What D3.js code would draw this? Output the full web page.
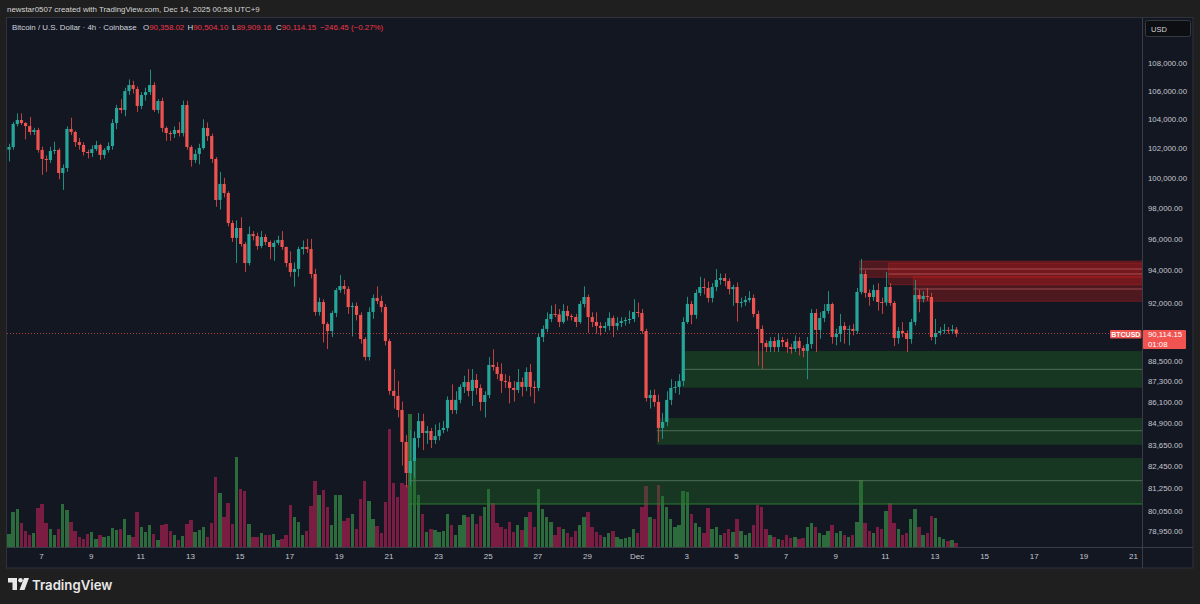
<!DOCTYPE html>
<html>
<head>
<meta charset="utf-8">
<script src="https://cdn.jsdelivr.net/npm/d3@7"></script>
<style>
  html, body { margin: 0; padding: 0; background: #1f1f1f; }
  svg { display: block; font-family: "Liberation Sans", Arial, sans-serif; }
</style>
</head>
<body>
<div id="chart"></div>
<script>
// 4h candles, chart time UTC+9, first bar Nov 5 17:00
const firstBar = Date.UTC(2025, 10, 5, 17);
const barHours = 4;

const opens = [
101900,102080,103660,103940,103730,103520,103110,103250,101880,101270,
101200,101810,101880,100320,100660,103320,103110,102420,102220,101740,
101670,101940,102220,101540,101880,102150,103730,104780,104640,105970,
106400,106120,104920,105690,105900,106400,104640,105270,103390,103040,
102970,103250,103040,104990,102080,101200,101610,102010,103390,102830,
101270,98530,99590,98990,97020,96060,96700,95670,94460,96310,
96180,95540,96120,95800,95480,95740,95930,95480,94460,93900,
94090,95350,95480,95350,93770,91420,92030,90690,90260,91360,
92770,93020,92840,91720,91790,91240,89780,88710,91420,92280,
92090,91720,89660,86720,86430,85620,83810,82090,82750,84030,
84990,84310,84430,83920,84140,84480,84600,86200,85620,86200,
86950,87240,86720,87360,86890,86080,86480,88240,88120,87710,
87300,87240,86890,86770,87240,86950,87820,86950,86890,89900,
90390,90990,91300,91270,90810,91480,91170,91110,90810,91910,
92340,91110,90810,90570,90450,90570,91050,90570,90750,90870,
90930,90990,91420,91360,90260,86310,86480,86080,84600,84940,
86200,86890,86950,87300,90810,91910,91240,92590,92960,92900,
92280,92960,93400,93520,93330,92830,92960,91970,92030,92160,
92280,91300,90390,89540,89300,89660,89300,89720,89600,89300,
89180,89660,89240,89070,89480,91360,90330,91050,91480,91910,
89900,90090,90570,90330,90390,90270,92650,93770,92590,92340,
92770,92030,92000,92960,91970,89840,90270,90140,89780,90810,
92460,92220,92400,92340,89900,90140,90270,90330,90270,90358.02
];

const closes = [
102080,103660,103940,103730,103520,103110,103250,101880,101270,101200,
101810,101880,100320,100660,103320,103110,102420,102220,101740,101670,
101940,102220,101540,101880,102150,103730,104780,104640,105970,106400,
106120,104920,105690,105900,106400,104640,105270,103390,103040,102970,
103250,103040,104990,102080,101200,101610,102010,103390,102830,101270,
98530,99590,98990,97020,96060,96700,95670,94460,96310,96180,
95540,96120,95800,95480,95740,95930,95480,94460,93900,94090,
95350,95480,95350,93770,91420,92030,90690,90260,91360,92770,
93020,92840,91720,91790,91240,89780,88710,91420,92280,92090,
91720,89660,86720,86430,85620,83810,82090,82750,84030,84990,
84310,84430,83920,84140,84480,84600,86200,85620,86200,86950,
87240,86720,87360,86890,86080,86480,88240,88120,87710,87300,
87240,86890,86770,87240,86950,87820,86950,86890,89900,90390,
90990,91300,91270,90810,91480,91170,91110,90810,91910,92340,
91110,90810,90570,90450,90570,91050,90570,90750,90870,90930,
90990,91420,91360,90260,86310,86480,86080,84600,84940,86200,
86890,86950,87300,90810,91910,91240,92590,92960,92900,92280,
92960,93400,93520,93330,92830,92960,91970,92030,92160,92280,
91300,90390,89540,89300,89660,89300,89720,89600,89300,89180,
89660,89240,89070,89480,91360,90330,91050,91480,91910,89900,
90090,90570,90330,90390,90270,92650,93770,92590,92340,92770,
92030,92000,92960,91970,89840,90270,90140,89780,90810,92460,
92220,92400,92340,89900,90140,90270,90330,90270,90360.60,90114.15
];

const highs = [
102300,103800,104400,104400,103800,104150,103400,103400,102100,101500,
102100,102440,102000,100900,103500,104100,103200,102700,102400,101900,
102200,102500,102300,102000,102400,104000,105000,105400,106200,106800,
106700,106300,105900,106200,107500,106600,105400,105500,103500,103200,
103500,103800,105300,105300,102200,101900,102300,103990,103770,103000,
101400,100400,100000,99100,97200,97200,97400,95800,96800,96500,
96400,96500,96300,95900,95900,96200,96500,95500,95200,94500,
95500,95900,96000,96000,94100,92300,92200,90800,91500,92900,
93710,93400,93000,92000,92000,91400,89900,91700,92500,93000,
92420,91900,89800,88000,87300,86100,84200,84500,84400,85450,
85400,84700,84600,84800,84900,85000,86400,87100,86700,87100,
87600,88000,88000,87700,87100,86700,88700,89170,88400,88330,
87700,87600,87300,88000,87500,88100,88300,87300,90100,90600,
91400,91820,91900,91600,91900,91800,91300,91300,92100,93000,
92500,91400,91400,90800,90800,91400,91200,91100,91100,91100,
91500,92200,92000,91600,90400,86770,86800,86500,85460,86700,
87400,87300,87700,91100,92350,92100,92800,93600,93500,93300,
93200,94080,93800,93800,93500,93100,93240,92300,92400,92700,
92500,91500,90600,89700,89900,89900,90100,89900,89800,89500,
90000,89900,89400,89900,91600,91600,91400,91900,92700,92000,
90400,91300,90800,90600,90700,92900,94720,94000,92800,93100,
93200,92300,93900,93200,92100,90500,90800,90300,91000,93400,
92800,92700,92900,92600,91000,90500,90700,90500,90630,90504.10
];

const lows = [
101100,101900,103500,103600,102600,102900,102900,101700,100200,100400,
101000,101600,99900,99190,100400,102900,102100,101900,101500,101300,
101400,101800,101200,101300,101700,101900,103300,104400,104200,105700,
105800,104500,104700,105300,105700,104500,104400,103100,102500,102500,
102700,102800,102800,101900,100750,100990,100900,101900,102490,101000,
98080,97900,98700,96800,95800,94460,95500,93900,94300,95900,
95300,95400,95600,94700,94600,95600,95300,94200,93600,92980,
93600,95000,95100,93500,91200,91200,89580,89180,89900,91100,
92600,92500,91300,89940,90900,89500,88500,88500,91000,91900,
91400,89400,86500,85700,85200,82500,81300,81400,81800,83500,
83360,83700,83470,83700,83900,84300,84400,85400,85400,86000,
86600,86400,85860,86500,85580,85190,86300,87900,87400,86600,
86900,86000,86100,86600,86400,86700,86400,86000,86700,89600,
90200,90800,91100,90500,90700,90900,90900,90500,90700,91700,
90160,90500,90100,90000,90200,90300,89900,90300,90500,90600,
90700,90800,91100,90100,86100,85700,85800,83800,83980,84700,
85900,86600,86500,87000,90700,90670,91000,92400,92500,92000,
92000,92700,93100,93000,92500,91800,90830,91700,91800,92000,
91100,88200,88000,89000,89000,89000,89000,89300,88950,88900,
89000,88800,88700,87400,89200,89000,89800,90800,91300,89500,
89400,89600,89500,89400,90000,90100,92500,92300,91800,92100,
91500,91300,91800,91800,89360,89500,89900,89000,89500,90600,
91400,92000,92100,89700,89470,90000,90100,90100,90100,89909.16
];

const volumes = [
320,840,920,576,384,280,328,944,1040,576,
432,288,432,1040,888,600,392,232,200,312,
360,184,296,240,264,448,408,424,672,280,
240,840,480,360,528,312,168,520,552,392,
288,168,264,552,656,360,408,488,240,584,
1680,1296,720,1056,560,2160,1384,1344,544,240,
240,336,288,288,312,168,192,288,1008,720,
608,288,384,976,1576,1248,1368,960,528,1248,
1248,624,704,784,432,1160,1584,1104,672,504,
344,1080,2832,1528,1200,1528,1500,3190,2064,1240,
784,368,424,400,368,384,784,520,288,528,
768,720,784,544,744,968,1384,1048,568,480,
432,600,360,528,408,720,840,480,1392,912,
720,600,288,480,432,336,240,384,528,720,
840,480,360,288,240,336,384,240,192,216,
240,432,336,960,1464,720,672,1488,1224,960,
672,480,528,1344,1320,792,576,480,336,936,
432,480,288,336,432,360,672,384,288,336,
528,1008,960,432,288,240,192,168,288,216,
240,192,216,480,576,480,336,288,384,528,
336,384,288,240,288,600,1608,576,384,336,
480,432,864,1056,576,432,288,336,672,912,
480,288,336,744,696,240,192,144,168,96
];

// demand zones (green) and supply zones (red): first bar index, top, bottom, mid line
const demandStart = [97, 157, 163];
const demandTop = [82915, 85162, 89064];
const demandBottom = [80404, 83655, 86906];
const demandMid = [81666, 84442, 87981];

const supplyStart = [206, 213, 219];
const supplyTop = [94590, 94463, 93600];
const supplyBottom = [93564, 93101, 92074];
const supplyMid = [94085, 93770, 92835];

const priceTicks = [108000, 106000, 104000, 102000, 100000, 98000, 96000, 94000, 92000,
  88500, 87300, 86100, 84900, 83650, 82450, 81250, 80050, 78950];
const dateTicks = ["2025-11-07","2025-11-09","2025-11-11","2025-11-13","2025-11-15","2025-11-17",
  "2025-11-19","2025-11-21","2025-11-23","2025-11-25","2025-11-27","2025-11-29","2025-12-01",
  "2025-12-03","2025-12-05","2025-12-07","2025-12-09","2025-12-11","2025-12-13","2025-12-15",
  "2025-12-17","2025-12-19","2025-12-21"];
const dateLabels = ["7","9","11","13","15","17","19","21","23","25","27","29","Dec",
  "3","5","7","9","11","13","15","17","19","21"];

function drawChart() {
  const W = 1200, H = 604;
  const plot = { left: 7, right: 1142.5, top: 18, bottom: 547 };

  const svg = d3.select("#chart")
    .append("svg")
    .attr("width", W)
    .attr("height", H)
    .attr("viewBox", `0 0 ${W} ${H}`);

  svg.append("rect").attr("width", W).attr("height", H).attr("fill", "#1f1f1f");

  // chart panel
  svg.append("rect")
    .attr("x", 6.5).attr("y", 17.5)
    .attr("width", 1186.5).attr("height", 550.5)
    .attr("fill", "#131722")
    .attr("stroke", "#2f323c");

  const bars = closes.map((c, i) => ({
    t: new Date(firstBar + i * barHours * 3600e3),
    o: opens[i], h: highs[i], l: lows[i], c: c, v: volumes[i]
  }));

  const parseDay = d3.utcParse("%Y-%m-%d");
  const tickDates = dateTicks.map(parseDay);

  const x = d3.scaleUtc()
    .domain([parseDay("2025-11-07"), parseDay("2025-12-21")])
    .range([41, 1133]);
  const y = d3.scaleLog()
    .domain([78950, 108000])
    .range([531.3, 62.7]);
  const yVol = d3.scaleLinear()
    .domain([0, 2400])
    .range([plot.bottom, plot.bottom - 100]);

  svg.append("clipPath").attr("id", "plotClip")
    .append("rect")
    .attr("x", plot.left).attr("y", plot.top)
    .attr("width", plot.right - plot.left).attr("height", plot.bottom - plot.top);

  const g = svg.append("g").attr("clip-path", "url(#plotClip)");

  // volume
  g.append("g")
    .selectAll("rect")
    .data(bars)
    .join("rect")
    .attr("x", d => x(d.t) - 1.7)
    .attr("width", 3.4)
    .attr("y", d => yVol(d.v))
    .attr("height", d => plot.bottom - yVol(d.v))
    .attr("fill", d => d.c >= d.o ? "#2c6b3b" : "#7b1c42")
    .attr("shape-rendering", "crispEdges");

  // zones
  const demand = demandStart.map((s, i) => ({ s, top: demandTop[i], bottom: demandBottom[i], mid: demandMid[i] }));
  const supply = supplyStart.map((s, i) => ({ s, top: supplyTop[i], bottom: supplyBottom[i], mid: supplyMid[i] }));

  const zoneG = g.append("g");
  zoneG.selectAll(".demand")
    .data(demand)
    .join("rect")
    .attr("class", "demand")
    .attr("x", d => x(bars[d.s].t) - 1.5)
    .attr("width", d => plot.right - x(bars[d.s].t) + 1.5)
    .attr("y", d => y(d.top))
    .attr("height", d => y(d.bottom) - y(d.top))
    .attr("fill", "#1f6b26")
    .attr("fill-opacity", 0.38);
  zoneG.selectAll(".demandMid")
    .data(demand)
    .join("line")
    .attr("class", "demandMid")
    .attr("x1", d => x(bars[d.s].t) - 1.5)
    .attr("x2", plot.right)
    .attr("y1", d => y(d.mid)).attr("y2", d => y(d.mid))
    .attr("stroke", "#5d7a62").attr("stroke-width", 1).attr("stroke-opacity", 0.8);
  // lower edge of the widest zone
  zoneG.append("line")
    .attr("x1", x(bars[demand[0].s].t) - 1.5).attr("x2", plot.right)
    .attr("y1", y(demand[0].bottom)).attr("y2", y(demand[0].bottom))
    .attr("stroke", "#2e7d32").attr("stroke-width", 1);

  zoneG.selectAll(".supply")
    .data(supply)
    .join("rect")
    .attr("class", "supply")
    .attr("x", d => x(bars[d.s].t) - 1.5)
    .attr("width", d => plot.right - x(bars[d.s].t) + 1.5)
    .attr("y", d => y(d.top))
    .attr("height", d => y(d.bottom) - y(d.top))
    .attr("fill", "#b71c1c")
    .attr("fill-opacity", 0.36)
    .attr("stroke", "#c62828").attr("stroke-opacity", 0.35);
  zoneG.selectAll(".supplyMid")
    .data(supply)
    .join("line")
    .attr("class", "supplyMid")
    .attr("x1", d => x(bars[d.s].t) - 1.5)
    .attr("x2", plot.right)
    .attr("y1", d => y(d.mid)).attr("y2", d => y(d.mid))
    .attr("stroke", "#d9787c").attr("stroke-width", 1).attr("stroke-opacity", 0.55);

  // candles
  const candle = g.append("g")
    .selectAll("g")
    .data(bars)
    .join("g");
  candle.append("line")
    .attr("x1", d => Math.round(x(d.t)) + 0.5)
    .attr("x2", d => Math.round(x(d.t)) + 0.5)
    .attr("y1", d => y(d.h))
    .attr("y2", d => y(d.l))
    .attr("stroke", d => d.c >= d.o ? "#1f8f82" : "#c2403f")
    .attr("stroke-width", 1);
  candle.append("rect")
    .attr("x", d => x(d.t) - 1.5)
    .attr("width", 3.2)
    .attr("y", d => y(Math.max(d.o, d.c)))
    .attr("height", d => Math.max(1, Math.abs(y(d.o) - y(d.c))))
    .attr("fill", d => d.c >= d.o ? "#26a69a" : "#ef5350");

  // last price line
  const last = bars[bars.length - 1];
  const prevClose = closes[closes.length - 2];
  svg.append("line")
    .attr("x1", plot.left).attr("x2", 1110)
    .attr("y1", y(last.c)).attr("y2", y(last.c))
    .attr("stroke", "#ef5350").attr("stroke-opacity", 0.75)
    .attr("stroke-dasharray", "1,2");

  // axes separators
  svg.append("line")
    .attr("x1", 1142.5).attr("x2", 1142.5).attr("y1", 17.5).attr("y2", 568)
    .attr("stroke", "#3a3d46");
  svg.append("line")
    .attr("x1", 6.5).attr("x2", 1193).attr("y1", 547.5).attr("y2", 547.5)
    .attr("stroke", "#3a3d46");

  // price axis
  const yAxis = svg.append("g")
    .attr("transform", "translate(1143,0)")
    .call(d3.axisRight(y).tickValues(priceTicks).tickFormat(d3.format(",.2f")).tickSize(0).tickPadding(5));
  yAxis.select(".domain").remove();
  yAxis.selectAll("text")
    .attr("fill", "#c3c6ce")
    .style("font-size", "7.8px")
    .style("font-family", "Liberation Sans, Arial, sans-serif");

  // time axis
  const xAxis = svg.append("g")
    .attr("transform", `translate(0,${plot.bottom})`)
    .call(d3.axisBottom(x).tickValues(tickDates).tickFormat((d, i) => dateLabels[i]).tickSize(0).tickPadding(6));
  xAxis.select(".domain").remove();
  xAxis.selectAll("text")
    .attr("fill", "#c3c6ce")
    .style("font-size", "8px")
    .style("font-family", "Liberation Sans, Arial, sans-serif");

  // USD box
  svg.append("rect")
    .attr("x", 1145.5).attr("y", 20.5).attr("width", 45).attr("height", 16).attr("rx", 2)
    .attr("fill", "#0d0e12").attr("stroke", "#363a45");
  svg.append("text")
    .attr("x", 1151).attr("y", 31.5)
    .attr("fill", "#d1d4dc").style("font-size", "7.5px")
    .text("USD");

  // last price labels
  const ly = y(last.c);
  svg.append("rect")
    .attr("x", 1110).attr("y", ly - 3.5).attr("width", 31.5).attr("height", 8.5).attr("rx", 1)
    .attr("fill", "#f05350");
  svg.append("text")
    .attr("x", 1125.8).attr("y", ly + 3.3)
    .attr("text-anchor", "middle")
    .attr("fill", "#ffffff").style("font-size", "7px").style("font-weight", "bold")
    .text("BTCUSD");
  svg.append("rect")
    .attr("x", 1143).attr("y", ly - 3.5).attr("width", 43).attr("height", 19).attr("rx", 1)
    .attr("fill", "#f05350");
  svg.append("text")
    .attr("x", 1148).attr("y", ly + 3.5)
    .attr("fill", "#ffffff").style("font-size", "7.8px")
    .text(d3.format(",.2f")(last.c));
  svg.append("text")
    .attr("x", 1148).attr("y", ly + 13.5)
    .attr("fill", "#ffffff").style("font-size", "7.8px")
    .text("01:08");

  // header
  svg.append("text")
    .attr("x", 7).attr("y", 12)
    .attr("fill", "#d6d6d6").style("font-size", "7.9px")
    .text("newstar0507 created with TradingView.com, Dec 14, 2025 00:58 UTC+9");

  // legend
  const legendY = 29.8;
  const fmt = d3.format(",.2f");
  svg.append("text")
    .attr("x", 12).attr("y", legendY)
    .attr("fill", "#d1d4dc").style("font-size", "7.9px")
    .text("Bitcoin / U.S. Dollar · 4h · Coinbase");
  const ohlc = [["O", last.o, 143], ["H", last.h, 187.5], ["L", last.l, 232], ["C", last.c, 276]];
  ohlc.forEach(([k, v, px]) => {
    const t = svg.append("text").attr("x", px).attr("y", legendY).style("font-size", "7.9px");
    t.append("tspan").attr("fill", "#d1d4dc").text(k);
    t.append("tspan").attr("fill", "#f23645").text(fmt(v));
  });
  const chg = last.c - prevClose;
  svg.append("text")
    .attr("x", 320).attr("y", legendY)
    .attr("fill", "#f23645").style("font-size", "7.9px")
    .text(`${fmt(chg).replace("-", "\u2212")} (${d3.format(".2%")(chg / prevClose).replace("-", "\u2212")})`);

  // TradingView logo
  const logo = svg.append("g").attr("transform", "translate(8,578)").attr("fill", "#e8e8e8");
  logo.append("rect").attr("x", 0).attr("y", 0).attr("width", 9).attr("height", 4.5);
  logo.append("rect").attr("x", 4.5).attr("y", 0).attr("width", 4.5).attr("height", 12);
  logo.append("circle").attr("cx", 12.5).attr("cy", 2.3).attr("r", 2.3);
  logo.append("polygon").attr("points", "16,0 21,0 16.5,12 11.5,12");
  svg.append("text")
    .attr("x", 32).attr("y", 589.5)
    .attr("fill", "#e8e8e8")
    .style("font-size", "13.2px").style("font-weight", "600")
    .style("font-family", "Inter, Roboto, sans-serif")
    .text("TradingView");
}

drawChart();
</script>
</body>
</html>
